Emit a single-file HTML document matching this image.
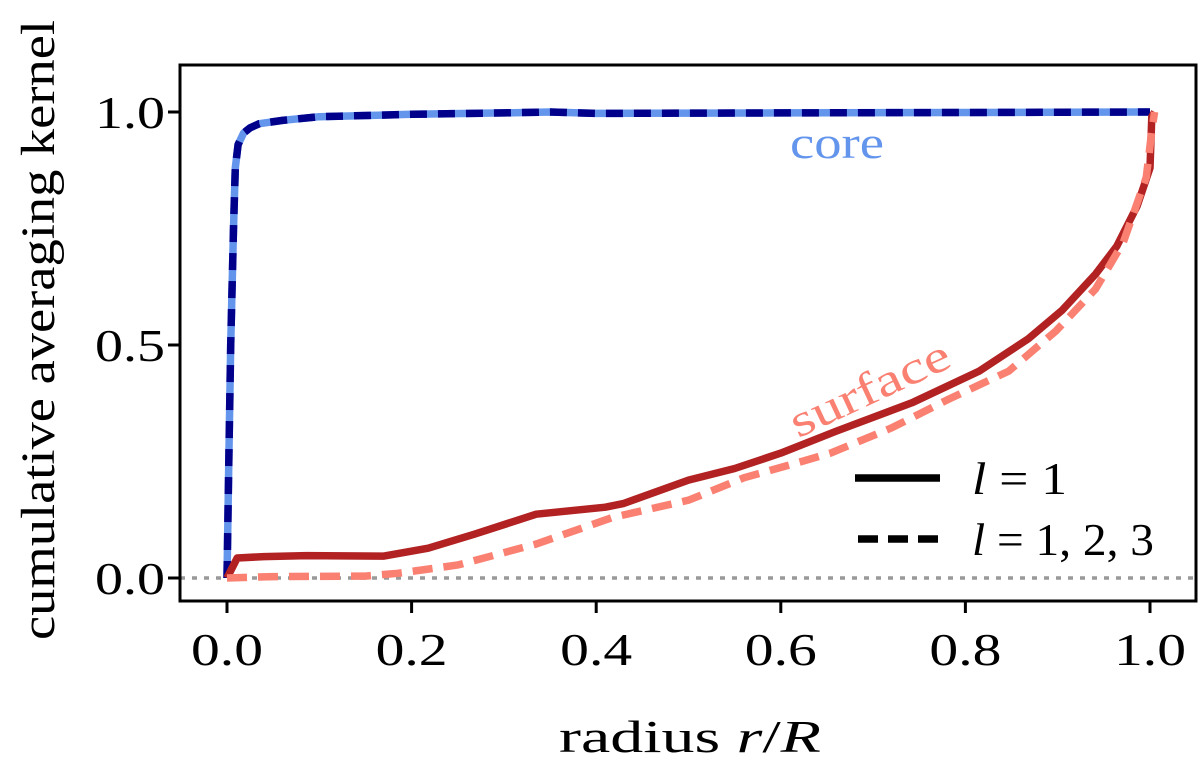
<!DOCTYPE html>
<html>
<head>
<meta charset="utf-8">
<style>
  html, body { margin: 0; padding: 0; background: #fff; }
  svg { display: block; }
  text { font-family: "Liberation Serif", "DejaVu Serif", serif; }
</style>
</head>
<body>
<svg id="chart" width="1200" height="767" viewBox="0 0 1200 767" xmlns="http://www.w3.org/2000/svg">
  <g id="plot"></g>
</svg>
<script>
const xTicks = [0.0, 0.2, 0.4, 0.6, 0.8, 1.0];
const xTickLabels = ["0.0", "0.2", "0.4", "0.6", "0.8", "1.0"];
const yTicks = [0.0, 0.5, 1.0];
const yTickLabels = ["0.0", "0.5", "1.0"];

const coreR = [0, 0.002, 0.004, 0.007, 0.009, 0.012, 0.018, 0.025, 0.035, 0.06, 0.1, 0.2, 0.3, 0.35, 0.4, 0.6, 0.8, 1.0];
const coreSolid = [0, 0.25, 0.5, 0.75, 0.88, 0.93, 0.955, 0.966, 0.975, 0.982, 0.99, 0.995, 0.998, 1.0, 0.997, 0.998, 0.999, 1.0];
const coreDashed = [0, 0.25, 0.5, 0.75, 0.88, 0.93, 0.955, 0.966, 0.975, 0.982, 0.99, 0.995, 0.998, 1.0, 0.997, 0.998, 0.999, 1.0];

const surfSolidR = [0, 0.011, 0.04, 0.086, 0.17, 0.218, 0.268, 0.335, 0.41, 0.43, 0.5, 0.55, 0.6, 0.66, 0.742, 0.815, 0.868, 0.905, 0.941, 0.964, 0.986, 1.0, 1.002, 1.005];
const surfSolid = [0, 0.043, 0.046, 0.048, 0.047, 0.064, 0.094, 0.137, 0.152, 0.16, 0.21, 0.235, 0.268, 0.315, 0.376, 0.444, 0.513, 0.575, 0.652, 0.712, 0.798, 0.88, 0.99, 1.0];

const surfDashR = [0, 0.05, 0.15, 0.185, 0.25, 0.335, 0.418, 0.5, 0.56, 0.614, 0.654, 0.72, 0.782, 0.847, 0.898, 0.941, 0.971, 0.996, 1.002, 1.005];
const surfDashed = [0, 0.003, 0.004, 0.01, 0.028, 0.073, 0.13, 0.167, 0.215, 0.245, 0.268, 0.322, 0.384, 0.444, 0.53, 0.62, 0.72, 0.86, 0.96, 1.0];

const NS = "http://www.w3.org/2000/svg";
const X0 = 227, X1 = 1150, Y0 = 578, Y1 = 112;
const FL = 180, FR = 1196, FT = 65, FB = 601;
function sx(v) { return X0 + v * (X1 - X0); }
function sy(v) { return Y0 - v * (Y0 - Y1); }
const plot = document.getElementById("plot");
function mk(tag, attrs, parent) {
  const e = document.createElementNS(NS, tag);
  for (const k in attrs) e.setAttribute(k, attrs[k]);
  (parent || plot).appendChild(e);
  return e;
}
function pathFrom(xs, ys) {
  return xs.map((x, i) => (i ? "L" : "M") + sx(x).toFixed(1) + "," + sy(ys[i]).toFixed(1)).join(" ");
}

let zl = mk("line", {x1: FL, x2: FR, y1: sy(0), y2: sy(0), stroke: "#999", "stroke-width": 3.5, "stroke-dasharray": "5 7"});



let s1 = mk("path", {d: pathFrom(coreR, coreSolid), fill: "none", stroke: "#6495ed", "stroke-width": 7.5, "stroke-linejoin": "round"});


let s2 = mk("path", {d: pathFrom(coreR, coreDashed), fill: "none", stroke: "#00008b", "stroke-width": 7.5, "stroke-dasharray": "17 11"});


let s3 = mk("path", {d: pathFrom(surfSolidR, surfSolid), fill: "none", stroke: "#b22222", "stroke-width": 7.5, "stroke-linejoin": "round"});


let s4 = mk("path", {d: pathFrom(surfDashR, surfDashed), fill: "none", stroke: "#fa8072", "stroke-width": 7.5, "stroke-dasharray": "20 11"});



let fr = mk("rect", {x: FL, y: FT, width: FR - FL, height: FB - FT, fill: "none", stroke: "#000", "stroke-width": 3});



xTicks.forEach((t, i) => {
  let tk = mk("line", {x1: sx(t), x2: sx(t), y1: FB, y2: FB + 12, stroke: "#000", "stroke-width": 3});
  
  
  let lb = mk("text", {x: sx(t), y: 665, "text-anchor": "middle", "font-size": 46, textLength: 72, lengthAdjust: "spacingAndGlyphs"});
  lb.textContent = xTickLabels[i];
  
  
});
yTicks.forEach((t, i) => {
  let tk = mk("line", {x1: FL - 12, x2: FL, y1: sy(t), y2: sy(t), stroke: "#000", "stroke-width": 3});
  
  
  let lb = mk("text", {x: 165, y: sy(t) + 16, "text-anchor": "end", "font-size": 46, textLength: 70, lengthAdjust: "spacingAndGlyphs"});
  lb.textContent = yTickLabels[i];
  
  
});

let xt = mk("text", {x: 690, y: 752, "text-anchor": "middle", "font-size": 46, textLength: 262, lengthAdjust: "spacingAndGlyphs"});
xt.innerHTML = 'radius <tspan font-style="italic">r</tspan>/<tspan font-style="italic">R</tspan>';


let yt = mk("text", {x: 0, y: 0, "text-anchor": "middle", "font-size": 48, textLength: 620, lengthAdjust: "spacingAndGlyphs", transform: "translate(54,330) rotate(-90)"});
yt.textContent = "cumulative averaging kernel";



let cl = mk("text", {x: 790, y: 158, "font-size": 46, fill: "#6495ed", textLength: 94, lengthAdjust: "spacingAndGlyphs"});
cl.textContent = "core";


let sl = mk("text", {x: 0, y: 0, "font-size": 46, fill: "#fa8072", "text-anchor": "middle", textLength: 172, lengthAdjust: "spacingAndGlyphs", transform: "translate(876,402) rotate(-25)"});
sl.textContent = "surface";



const lg = mk("g", {});


let l1 = mk("line", {x1: 855, x2: 940, y1: 478, y2: 478, stroke: "#000", "stroke-width": 7.5}, lg);


let t1 = mk("text", {x: 972, y: 494, "font-size": 46, textLength: 95, lengthAdjust: "spacingAndGlyphs"}, lg);
t1.innerHTML = '<tspan font-style="italic">l</tspan> = 1';


let l2 = mk("line", {x1: 858, x2: 938, y1: 539, y2: 539, stroke: "#000", "stroke-width": 7.5, "stroke-dasharray": "20 10"}, lg);


let t2 = mk("text", {x: 972, y: 555, "font-size": 46, textLength: 182, lengthAdjust: "spacingAndGlyphs"}, lg);
t2.innerHTML = '<tspan font-style="italic">l</tspan> = 1, 2, 3';


</script>
</body>
</html>
